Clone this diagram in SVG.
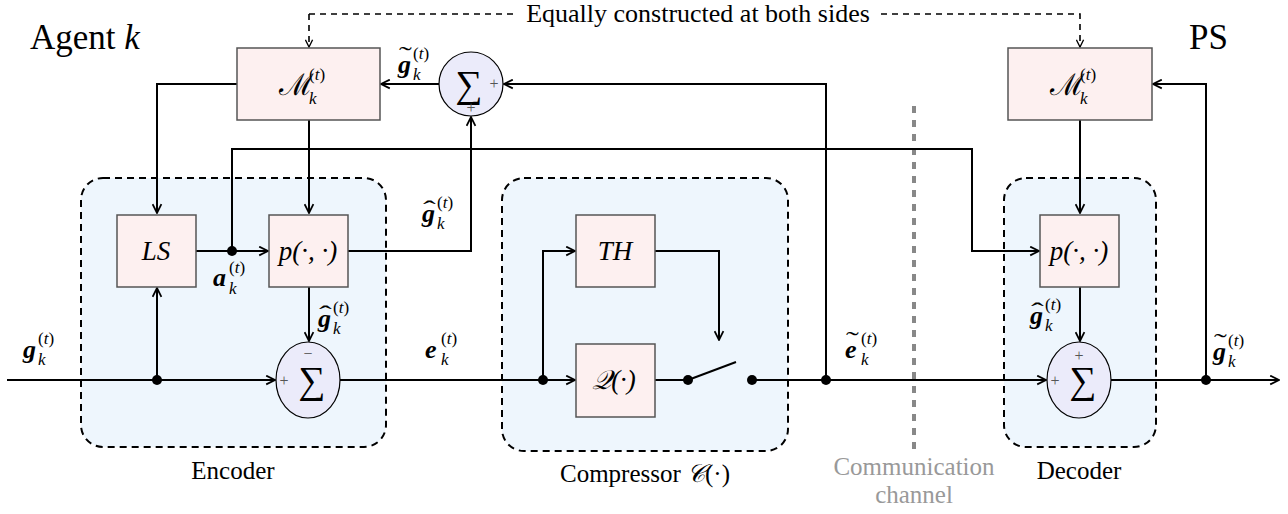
<svg xmlns="http://www.w3.org/2000/svg" width="1288" height="514" viewBox="0 0 1288 514">
<style>
.grp{fill:#eef6fd;stroke:#000;stroke-width:2;stroke-dasharray:7 5}
.box{fill:#fdf0f0;stroke:#555;stroke-width:1.5}
.sum{fill:#ebebfa;stroke:#000;stroke-width:1.2}
.w{fill:none;stroke:#000;stroke-width:2}
.dsh{fill:none;stroke:#000;stroke-width:1.6;stroke-dasharray:6 5}
.chan{fill:none;stroke:#888;stroke-width:4;stroke-dasharray:7 7}
text{font-family:"Liberation Serif","DejaVu Serif",serif;fill:#000}
.big{font-size:35px}
.cap{font-size:25px}
.top{font-size:26px}
.gray{fill:#999}
.mi{font-style:italic;font-size:27px}
.mc{font-size:30px}
.bv{font-style:italic;font-weight:bold;font-size:26px}
.sub{font-style:italic;font-size:17px}
.sup{font-size:17px}
.acc{font-size:24px}
.sig{font-size:38px}
.pm{font-size:16px;fill:#555}
.dot{fill:#000}
</style>
<defs>
<marker id="ar" viewBox="0 0 10 10" refX="9" refY="5" markerWidth="11" markerHeight="11" markerUnits="userSpaceOnUse" orient="auto">
<path d="M1,1 L9,5 L1,9" fill="none" stroke="#000" stroke-width="1.6"/>
</marker>
<marker id="ars" viewBox="0 0 10 10" refX="9" refY="5" markerWidth="9" markerHeight="9" markerUnits="userSpaceOnUse" orient="auto">
<path d="M1,1 L9,5 L1,9" fill="none" stroke="#000" stroke-width="1.5"/>
</marker>
</defs>

<g id="encoder-group">
<rect class="grp" x="81" y="178" width="305" height="269" rx="22"/>
<text class="cap" x="233" y="479" text-anchor="middle">Encoder</text>
</g>
<g id="compressor-group">
<rect class="grp" x="502" y="178" width="286" height="273" rx="22"/>
<text class="cap" x="645" y="482" text-anchor="middle">Compressor <tspan font-style="italic">𝒞</tspan>(·)</text>
</g>
<g id="decoder-group">
<rect class="grp" x="1004" y="178" width="152" height="269" rx="22"/>
<text class="cap" x="1079" y="479" text-anchor="middle">Decoder</text>
</g>
<g id="channel">
<line class="chan" x1="914" y1="106" x2="914" y2="456"/>
<text class="cap gray" x="914" y="475" text-anchor="middle">Communication</text>
<text class="cap gray" x="914" y="503" text-anchor="middle">channel</text>
</g>

<text class="big" x="30" y="49">Agent <tspan font-style="italic">k</tspan></text>
<text class="big" x="1189" y="49">PS</text>

<g id="connectors">
<path class="dsh" d="M309,14 V47" marker-end="url(#ars)"/>
<path class="dsh" d="M309,14 H515"/>
<path class="dsh" d="M881,14 H1080 V47" marker-end="url(#ars)"/>
<text class="top" x="698" y="22" text-anchor="middle">Equally constructed at both sides</text>

<path class="w" d="M7,380 H275" marker-end="url(#ar)"/>
<path class="w" d="M157,380 V288" marker-end="url(#ar)"/>
<path class="w" d="M196,251 H268" marker-end="url(#ar)"/>
<path class="w" d="M232,251 V149 H972 V251 H1039" marker-end="url(#ar)"/>
<path class="w" d="M237,84 H157 V213" marker-end="url(#ar)"/>
<path class="w" d="M309,120 V213" marker-end="url(#ar)"/>
<path class="w" d="M309,287 V341" marker-end="url(#ar)"/>
<path class="w" d="M348,251 H471 V117" marker-end="url(#ar)"/>
<path class="w" d="M439,84 H381" marker-end="url(#ar)"/>
<path class="w" d="M340,380 H575" marker-end="url(#ar)"/>
<path class="w" d="M543,380 V251 H575" marker-end="url(#ar)"/>
<path class="w" d="M655,251 H719 V340" marker-end="url(#ar)"/>
<path class="w" d="M655,380 H688"/>
<path class="w" d="M688,380 L736,362"/>
<path class="w" d="M752,380 H1046" marker-end="url(#ar)"/>
<path class="w" d="M826,380 V84 H504" marker-end="url(#ar)"/>
<path class="w" d="M1080,120 V213" marker-end="url(#ar)"/>
<path class="w" d="M1080,287 V341" marker-end="url(#ar)"/>
<path class="w" d="M1111,380 H1279" marker-end="url(#ar)"/>
<path class="w" d="M1206,380 V84 H1153" marker-end="url(#ar)"/>
<circle class="dot" cx="157" cy="380" r="5"/>
<circle class="dot" cx="232" cy="251" r="5"/>
<circle class="dot" cx="543" cy="380" r="5"/>
<circle class="dot" cx="688" cy="380" r="5"/>
<circle class="dot" cx="752" cy="380" r="5"/>
<circle class="dot" cx="826" cy="380" r="5"/>
<circle class="dot" cx="1206" cy="380" r="5"/>
</g>

<g id="M-agent">
<rect class="box" x="237" y="48" width="143" height="72"/>
<text class="mc" x="279" y="95">ℳ</text><text class="sub" x="309" y="104">k</text><text class="sup" x="309" y="80">(<tspan font-style="italic">t</tspan>)</text>
</g>
<g id="M-ps">
<rect class="box" x="1008" y="48" width="144" height="72"/>
<text class="mc" x="1050" y="95">ℳ</text><text class="sub" x="1080" y="104">k</text><text class="sup" x="1080" y="80">(<tspan font-style="italic">t</tspan>)</text>
</g>
<g id="sum-top">
<circle class="sum" cx="471" cy="84" r="32"/>
<text class="sig" x="469" y="97" text-anchor="middle">∑</text>
<text class="pm" x="494" y="89" text-anchor="middle">+</text>
<text class="pm" x="471" y="113" text-anchor="middle">+</text>
</g>
<g id="LS">
<rect class="box" x="117" y="215" width="79" height="72"/>
<text class="mi" x="156" y="260" text-anchor="middle">LS</text>
</g>
<g id="p-enc">
<rect class="box" x="269" y="215" width="79" height="72"/>
<text class="mi" x="308" y="260" text-anchor="middle" font-style="normal"><tspan font-style="italic">p</tspan>(·, ·)</text>
</g>
<g id="sum-enc">
<ellipse class="sum" cx="308" cy="380" rx="32" ry="38"/>
<text class="sig" x="312" y="393" text-anchor="middle">∑</text>
<text class="pm" x="284" y="386" text-anchor="middle">+</text>
<text class="pm" x="308" y="359" text-anchor="middle">−</text>
</g>
<g id="TH">
<rect class="box" x="576" y="215" width="79" height="72"/>
<text class="mi" x="615" y="260" text-anchor="middle">TH</text>
</g>
<g id="Q">
<rect class="box" x="576" y="344" width="79" height="73"/>
<text class="mi" x="614" y="389" text-anchor="middle" font-style="normal"><tspan font-style="italic">𝒬</tspan>(·)</text>
</g>
<g id="p-dec">
<rect class="box" x="1040" y="215" width="79" height="72"/>
<text class="mi" x="1079" y="260" text-anchor="middle" font-style="normal"><tspan font-style="italic">p</tspan>(·, ·)</text>
</g>
<g id="sum-dec">
<ellipse class="sum" cx="1079" cy="380" rx="32" ry="38"/>
<text class="sig" x="1083" y="393" text-anchor="middle">∑</text>
<text class="pm" x="1055" y="386" text-anchor="middle">+</text>
<text class="pm" x="1079" y="361" text-anchor="middle">+</text>
</g>

<g id="labels">
<g><text class="acc" transform="translate(399,63) scale(1.6,1)">˜</text><text class="bv" x="398" y="73">g</text><text class="sub" x="413" y="80">k</text><text class="sup" x="413" y="59">(<tspan font-style="italic">t</tspan>)</text></g>
<g><text class="acc" transform="translate(423,217) scale(1.6,1)">ˆ</text><text class="bv" x="422" y="222">g</text><text class="sub" x="437" y="229">k</text><text class="sup" x="437" y="208">(<tspan font-style="italic">t</tspan>)</text></g>
<g><text class="bv" x="213" y="286">a</text><text class="sub" x="229" y="294">k</text><text class="sup" x="229" y="273">(<tspan font-style="italic">t</tspan>)</text></g>
<g><text class="acc" transform="translate(319,322) scale(1.6,1)">ˆ</text><text class="bv" x="318" y="327">g</text><text class="sub" x="333" y="334">k</text><text class="sup" x="333" y="313">(<tspan font-style="italic">t</tspan>)</text></g>
<g><text class="bv" x="23" y="358">g</text><text class="sub" x="38" y="365">k</text><text class="sup" x="38" y="344">(<tspan font-style="italic">t</tspan>)</text></g>
<g><text class="bv" x="425" y="358">e</text><text class="sub" x="441" y="365">k</text><text class="sup" x="441" y="344">(<tspan font-style="italic">t</tspan>)</text></g>
<g><text class="acc" transform="translate(846,348) scale(1.6,1)">˜</text><text class="bv" x="845" y="358">e</text><text class="sub" x="861" y="365">k</text><text class="sup" x="861" y="344">(<tspan font-style="italic">t</tspan>)</text></g>
<g><text class="acc" transform="translate(1031,319) scale(1.6,1)">ˆ</text><text class="bv" x="1030" y="324">g</text><text class="sub" x="1045" y="331">k</text><text class="sup" x="1045" y="310">(<tspan font-style="italic">t</tspan>)</text></g>
<g><text class="acc" transform="translate(1214,350) scale(1.6,1)">˜</text><text class="bv" x="1213" y="360">g</text><text class="sub" x="1228" y="367">k</text><text class="sup" x="1228" y="346">(<tspan font-style="italic">t</tspan>)</text></g>
</g>
</svg>
